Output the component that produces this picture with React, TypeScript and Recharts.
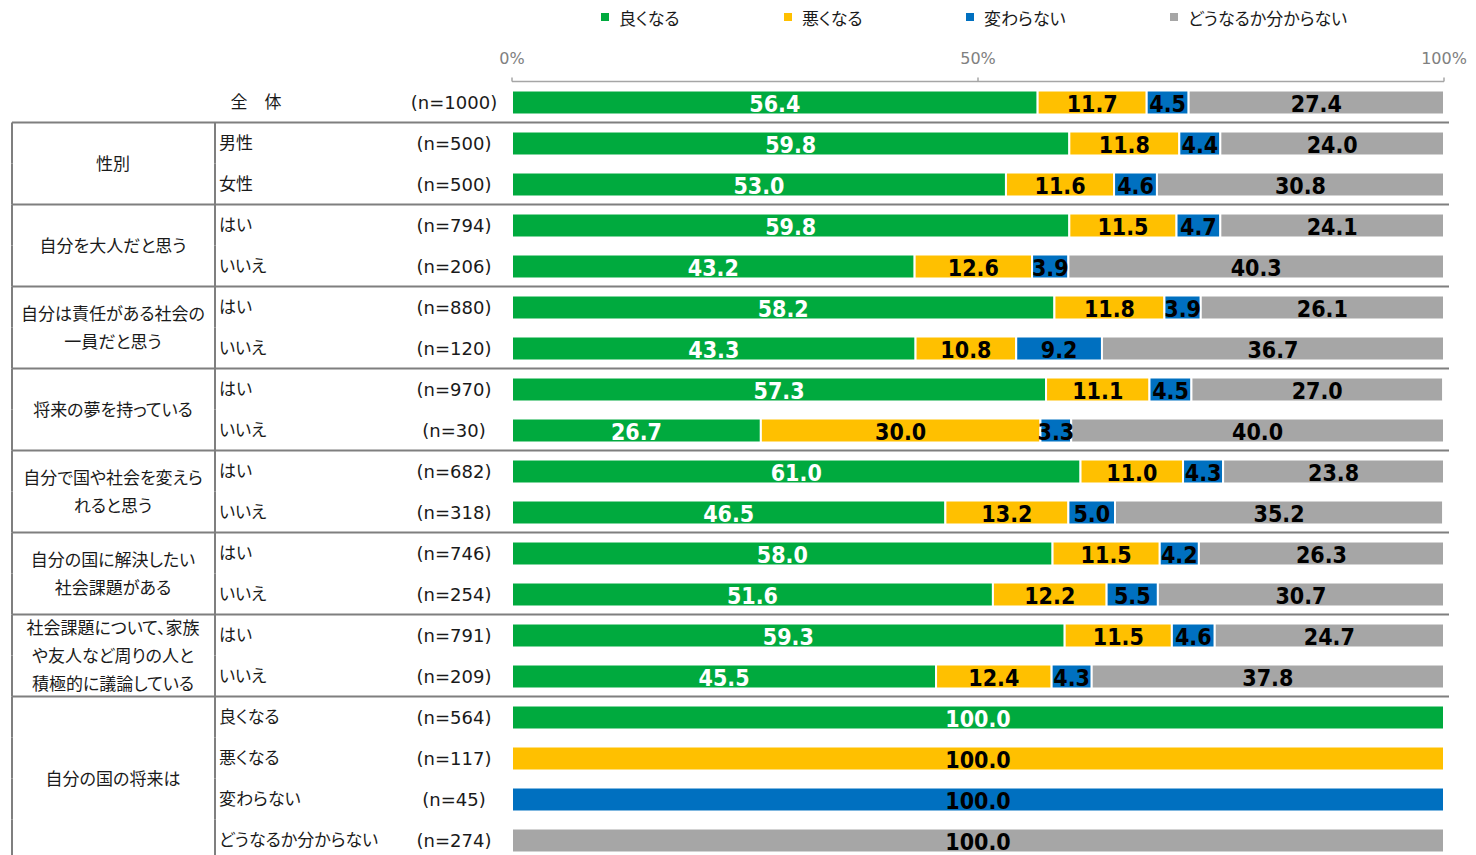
import React from 'react';
import { BarChart, Bar, XAxis, YAxis, Legend, LabelList } from 'recharts';

const seriesNames = ['良くなる', '悪くなる', '変わらない', 'どうなるか分からない'];
const seriesColors = ['#00aa3e', '#ffc000', '#0070c0', '#a6a6a6'];
const labelColors = ['#ffffff', '#000000', '#000000', '#000000'];

const groupLabels = [
  '',
  '性別',
  '自分を大人だと思う',
  '自分は責任がある社会の\n一員だと思う',
  '将来の夢を持っている',
  '自分で国や社会を変えら\nれると思う',
  '自分の国に解決したい\n社会課題がある',
  '社会課題について、家族\nや友人など周りの人と\n積極的に議論している',
  '自分の国の将来は',
];
const groupSizes = [1, 2, 2, 2, 2, 2, 2, 2, 4];

const subLabels = [
  '全　体',
  '男性', '女性',
  'はい', 'いいえ',
  'はい', 'いいえ',
  'はい', 'いいえ',
  'はい', 'いいえ',
  'はい', 'いいえ',
  'はい', 'いいえ',
  '良くなる', '悪くなる', '変わらない', 'どうなるか分からない',
];
const sampleSizes = [1000, 500, 500, 794, 206, 880, 120, 970, 30, 682, 318, 746, 254, 791, 209, 564, 117, 45, 274];

const better = [56.4, 59.8, 53.0, 59.8, 43.2, 58.2, 43.3, 57.3, 26.7, 61.0, 46.5, 58.0, 51.6, 59.3, 45.5, 100, 0, 0, 0];
const worse = [11.7, 11.8, 11.6, 11.5, 12.6, 11.8, 10.8, 11.1, 30.0, 11.0, 13.2, 11.5, 12.2, 11.5, 12.4, 0, 100, 0, 0];
const same = [4.5, 4.4, 4.6, 4.7, 3.9, 3.9, 9.2, 4.5, 3.3, 4.3, 5.0, 4.2, 5.5, 4.6, 4.3, 0, 0, 100, 0];
const unknown = [27.4, 24.0, 30.8, 24.1, 40.3, 26.1, 36.7, 27.0, 40.0, 23.8, 35.2, 26.3, 30.7, 24.7, 37.8, 0, 0, 0, 100];

const seriesKeys = ['better', 'worse', 'same', 'unknown'];
const xTicks = [0, 50, 100];

// layout
const W = 1476;
const H = 870;
const X_AXIS_H = 30;
const MARGIN = { top: 51.5, right: 32, bottom: 9.5, left: 0 };
const Y_AXIS_W = 512;
const BAND = (H - MARGIN.top - MARGIN.bottom - X_AXIS_H) / subLabels.length;
const legendX = [601, 784, 966, 1170];

const JP_FONT = '"DejaVu Sans", "Noto Sans CJK JP", sans-serif';
const VALUE_FONT = '"Liberation Sans Narrow", "DejaVu Sans Condensed", "DejaVu Sans", sans-serif';
const LINE = '#7f7f7f';

// build rows
const groupOfRow: { label: string; start: boolean; size: number }[] = [];
groupLabels.forEach((label, g) => {
  for (let i = 0; i < groupSizes[g]; i++) {
    groupOfRow.push({ label, start: i === 0, size: groupSizes[g] });
  }
});

const data = subLabels.map((sub, i) => ({
  id: 'r' + i,
  better: better[i],
  worse: worse[i],
  same: same[i],
  unknown: unknown[i],
}));

const RowTick = (props: any) => {
  const { y, payload } = props;
  const index = Number(String(payload.value).slice(1));
  const grp = groupOfRow[index];
  const top = y - BAND / 2;
  const textStyle = { fontFamily: JP_FONT, fontSize: 17, fill: '#1a1a1a', fontFeatureSettings: '"palt"' } as any;
  const lines = grp.label ? grp.label.split('\n') : [];
  const groupCenter = y + ((grp.size - 1) * BAND) / 2;
  return (
    <g>
      {index > 0 && grp.start && <line x1={12} x2={1449} y1={top} y2={top} stroke={LINE} strokeWidth={2} />}
      {index > 0 && (
        <>
          <line x1={12} x2={12} y1={top} y2={top + BAND} stroke={LINE} strokeWidth={2} />
          <line x1={215} x2={215} y1={top} y2={top + BAND} stroke={LINE} strokeWidth={2} />
        </>
      )}
      {grp.start &&
        lines.map((t, k) => (
          <text
            key={k}
            x={113}
            y={groupCenter + (k - (lines.length - 1) / 2) * 28}
            textAnchor="middle"
            dominantBaseline="central"
            style={textStyle}
          >
            {t}
          </text>
        ))}
      {grp.label ? (
        <text x={219} y={y} dominantBaseline="central" style={textStyle}>
          {subLabels[index]}
        </text>
      ) : (
        <text x={256} y={y} textAnchor="middle" dominantBaseline="central" style={textStyle}>
          {subLabels[index]}
        </text>
      )}
      <text x={454} y={y} textAnchor="middle" dominantBaseline="central" style={{ ...textStyle, fontSize: 18 }}>
        {`(n=${sampleSizes[index]})`}
      </text>
    </g>
  );
};

const renderValue = (color: string) => (props: any) => {
  const { x, y, width, height, value } = props;
  if (!value) return null;
  return (
    <text
      x={Number(x) + Number(width) / 2}
      y={Number(y) + Number(height) / 2 + 1}
      textAnchor="middle"
      dominantBaseline="central"
      fill={color}
      style={{ fontFamily: VALUE_FONT, fontWeight: 700, fontSize: 23 }}
    >
      {Number(value).toFixed(1)}
    </text>
  );
};

const renderLegend = (props: any) => (
  <div style={{ position: 'relative', height: 34, fontFamily: JP_FONT, fontSize: 17, color: '#1a1a1a' }}>
    {(props.payload || []).map((entry: any) => {
      const i = seriesNames.indexOf(entry.value);
      return (
        <div
          key={entry.value}
          style={{ position: 'absolute', left: legendX[i], top: 4, height: 26, display: 'flex', alignItems: 'center', whiteSpace: 'nowrap', fontFeatureSettings: '"palt"' }}
        >
          <span style={{ display: 'inline-block', width: 8, height: 8, background: entry.color, marginRight: 10 }} />
          <span>{entry.value}</span>
        </div>
      );
    })}
  </div>
);

export default function App() {
  return (
    <div style={{ position: 'absolute', left: 0, top: 0, background: '#fff' }}>
      <BarChart width={W} height={H} data={data} layout="vertical" margin={MARGIN} barSize={24}>
        <XAxis
          type="number"
          orientation="top"
          domain={[0, 100]}
          allowDataOverflow
          ticks={xTicks}
          height={X_AXIS_H}
          tickFormatter={(v) => `${v}%`}
          tickSize={4}
          tickMargin={14}
          axisLine={{ stroke: '#a6a6a6', strokeWidth: 1.5 }}
          tickLine={{ stroke: '#a6a6a6', strokeWidth: 1.5 }}
          tick={{ fill: '#808080', fontSize: 16, fontFamily: JP_FONT }}
        />
        <YAxis
          type="category"
          dataKey="id"
          width={Y_AXIS_W}
          axisLine={false}
          tickLine={false}
          tick={<RowTick />}
          interval={0}
        />
        <Legend verticalAlign="middle" align="center" layout="horizontal" wrapperStyle={{ top: 0, left: 0, width: W, height: 34 }} content={renderLegend} />
        {seriesKeys.map((k, i) => (
          <Bar key={k} dataKey={k} name={seriesNames[i]} stackId="a" fill={seriesColors[i]} stroke="#ffffff" strokeWidth={2} isAnimationActive={false}>
            <LabelList dataKey={k} content={renderValue(labelColors[i])} />
          </Bar>
        ))}
      </BarChart>
    </div>
  );
}
